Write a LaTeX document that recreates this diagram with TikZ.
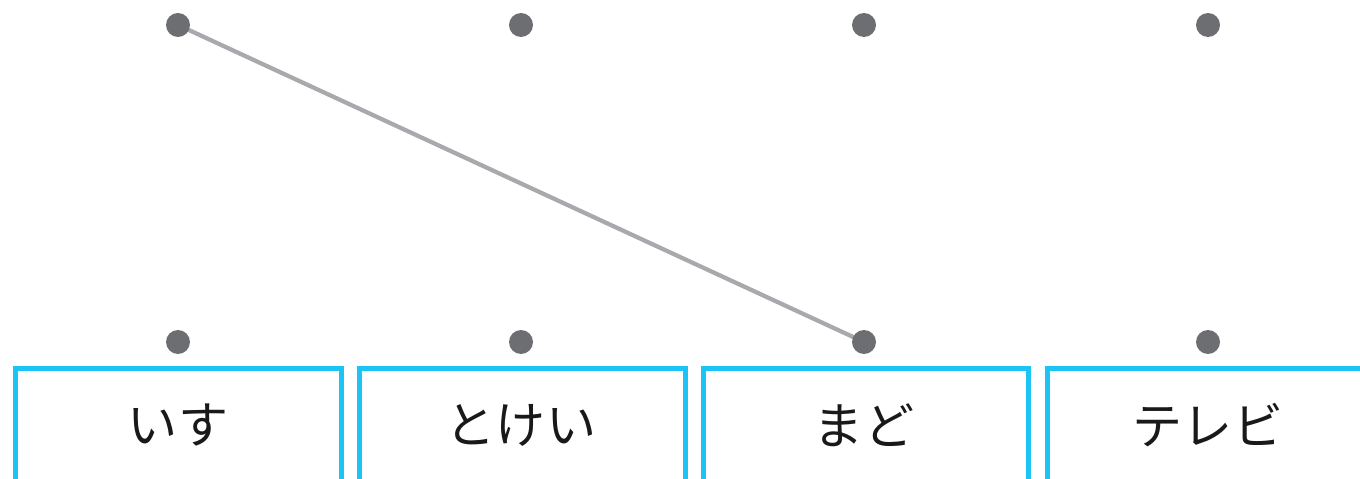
\documentclass[tikz,border=0pt]{standalone}
\usepackage{fontspec}
\usetikzlibrary{backgrounds}
\newfontfamily\jp{Noto Sans CJK JP}
\definecolor{dotgray}{RGB}{109,110,113}
\definecolor{linegray}{RGB}{167,169,172}
\definecolor{boxcyan}{RGB}{28,196,246}
\begin{document}
\begin{tikzpicture}[x=0.02cm,y=-0.02cm,
  dotnode/.style={circle,fill=dotgray,inner sep=0pt,minimum size=0.48cm},
  wordnode/.style={font=\jp\fontsize{28.5}{32}\selectfont,text=black!90,inner sep=0pt},
  boxline/.style={draw=boxcyan,line width=0.1cm},
  link/.style={draw=linegray,line width=0.085cm}]
\useasboundingbox (0,0) rectangle (1360,479);
\clip (0,0) rectangle (1360,479);
% boxes
\draw[boxline] (15.5,500) -- (15.5,369) -- (341,369) -- (341,500);
\draw[boxline] (359.5,500) -- (359.5,369) -- (685,369) -- (685,500);
\draw[boxline] (703.5,500) -- (703.5,369) -- (1028,369) -- (1028,500);
\draw[boxline] (1047,500) -- (1047,369) -- (1380,369);
% words
\node[wordnode] (w1) at (178,425) {いす};
\node[wordnode] (w2) at (521,425) {とけい};
\node[wordnode] (w3) at (864,425) {まど};
\node[wordnode] (w4) at (1208,425) {テレビ};
% dots
\node[dotnode] (a1) at (178,25) {};
\node[dotnode] (a2) at (521,25) {};
\node[dotnode] (a3) at (864,25) {};
\node[dotnode] (a4) at (1208,25) {};
\node[dotnode] (b1) at (178,342) {};
\node[dotnode] (b2) at (521,342) {};
\node[dotnode] (b3) at (864,342) {};
\node[dotnode] (b4) at (1208,342) {};
% connector
\begin{scope}[on background layer]
\draw[link] (a1.center) -- (b3.center);
\end{scope}
\end{tikzpicture}
\end{document}
